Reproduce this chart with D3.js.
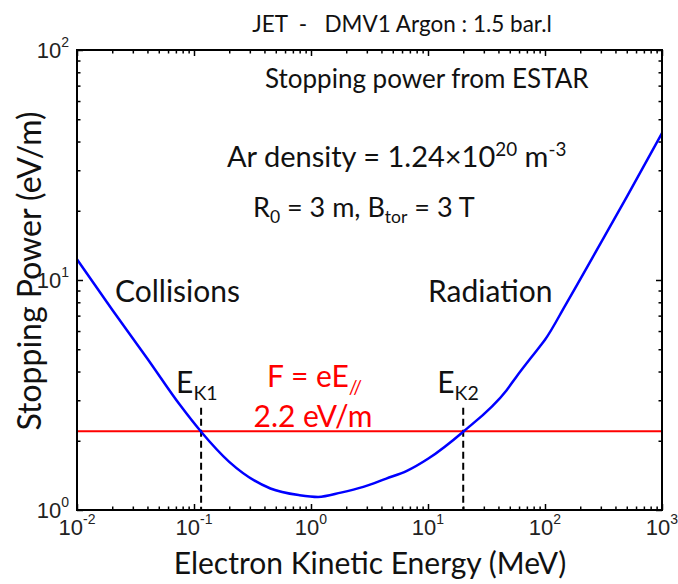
<!DOCTYPE html>
<html>
<head>
<meta charset="utf-8">
<script src="https://cdn.jsdelivr.net/npm/d3@7"></script>
<style>
  body { margin: 0; background: #fff; }
  svg text { white-space: pre; }
</style>
</head>
<body>
<div id="chart"></div>
<script>
//////////////////////////// data /////////////////////////////////////////

// electron kinetic energy (MeV) and stopping power (eV/m)
const energy = [0.01, 0.02, 0.04, 0.076, 0.115, 0.2, 0.45, 0.8, 1.15, 1.8, 2.8, 4.4, 6.6, 10, 20, 47, 57, 90, 100, 150, 300, 500, 1000];
const stopping = [12.3, 7.43, 4.55, 2.86, 2.19, 1.62, 1.24, 1.16, 1.14, 1.19, 1.26, 1.37, 1.48, 1.67, 2.19, 3.32, 3.8, 5.13, 5.5, 7.8, 14.5, 23.0, 43.5];

const forceValue = 2.2; // F = eE// (eV/m)
const ekCrossings = [0.115, 20]; // E_K1, E_K2 (MeV)
const ekDashTop = 2.78; // dashed markers go up to here

const xDecades = [-2, -1, 0, 1, 2, 3];
const yDecades = [0, 1, 2];

//////////////////////////// sizes ////////////////////////////////////////

const width = 678;
const height = 584;
const margin = { top: 50, right: 16, bottom: 74, left: 77 };
const boundedWidth = width - margin.left - margin.right;
const boundedHeight = height - margin.top - margin.bottom;

const sans = "Lato, 'Open Sans', sans-serif";
const arial = "'Liberation Sans', Arial, sans-serif";

const svg = d3.select("#chart").append("svg")
  .attr("width", width)
  .attr("height", height);

const bounds = svg.append("g")
  .attr("transform", `translate(${margin.left},${margin.top})`);

//////////////////////////// scales ///////////////////////////////////////

const x = d3.scaleLog().domain([1e-2, 1e3]).range([0, boundedWidth]);
const y = d3.scaleLog().domain([1, 100]).range([boundedHeight, 0]);

const majorX = xDecades.map((p) => Math.pow(10, p));
const majorY = yDecades.map((p) => Math.pow(10, p));
const minorOf = (majors) => {
  const out = [];
  majors.slice(0, -1).forEach((m) => {
    for (let k = 2; k <= 9; k++) out.push(m * k);
  });
  return out;
};
const minorX = minorOf(majorX);
const minorY = minorOf(majorY);

//////////////////////////// axes (inward ticks) //////////////////////////

const tickAxis = (gen, vals, size, transform) => {
  const g = bounds.append("g")
    .attr("transform", transform || null)
    .call(gen.tickValues(vals).tickSize(size).tickFormat(""));
  g.select(".domain").remove();
  g.selectAll(".tick line").attr("stroke", "#000").attr("stroke-width", 1.5);
};

tickAxis(d3.axisBottom(x), majorX, -6, `translate(0,${boundedHeight})`);
tickAxis(d3.axisBottom(x), minorX, -3.5, `translate(0,${boundedHeight})`);
tickAxis(d3.axisTop(x), majorX, -6);
tickAxis(d3.axisTop(x), minorX, -3.5);
tickAxis(d3.axisLeft(y), majorY, -6);
tickAxis(d3.axisLeft(y), minorY, -3.5);
tickAxis(d3.axisRight(y), majorY, -6, `translate(${boundedWidth},0)`);
tickAxis(d3.axisRight(y), minorY, -3.5, `translate(${boundedWidth},0)`);

// tick labels 10^n
const xLab = bounds.append("g").selectAll("text")
  .data(xDecades)
  .join("text")
  .attr("x", (d) => x(Math.pow(10, d)))
  .attr("y", boundedHeight + 25)
  .attr("text-anchor", "middle")
  .attr("font-family", arial)
  .attr("font-size", 22)
  .attr("fill", "#222");
xLab.append("tspan").text("10");
xLab.append("tspan").attr("dy", -11).attr("font-size", 14).text((d) => d);

const yLab = bounds.append("g").selectAll("text")
  .data(yDecades)
  .join("text")
  .attr("x", -8)
  .attr("y", (d) => y(Math.pow(10, d)) + 8)
  .attr("text-anchor", "end")
  .attr("font-family", arial)
  .attr("font-size", 22)
  .attr("fill", "#222");
yLab.append("tspan").text("10");
yLab.append("tspan").attr("dy", -11).attr("font-size", 14).text((d) => d);

//////////////////////////// plot /////////////////////////////////////////

const curveData = energy.map((e, i) => ({ e, s: stopping[i] }));

// red force line
bounds.append("line")
  .attr("x1", 0)
  .attr("x2", boundedWidth)
  .attr("y1", y(forceValue))
  .attr("y2", y(forceValue))
  .attr("stroke", "#ff0000")
  .attr("stroke-width", 2.2);

// dashed crossing markers
bounds.append("g").selectAll("line")
  .data(ekCrossings)
  .join("line")
  .attr("x1", (d) => x(d))
  .attr("x2", (d) => x(d))
  .attr("y1", y(ekDashTop))
  .attr("y2", boundedHeight)
  .attr("stroke", "#000")
  .attr("stroke-width", 2)
  .attr("stroke-dasharray", "7,4");

const line = d3.line()
  .x((d) => x(d.e))
  .y((d) => y(d.s))
  .curve(d3.curveMonotoneX);

bounds.append("path")
  .datum(curveData)
  .attr("d", line)
  .attr("fill", "none")
  .attr("stroke", "#0000ff")
  .attr("stroke-width", 2.5);

// frame
bounds.append("rect")
  .attr("width", boundedWidth)
  .attr("height", boundedHeight)
  .attr("fill", "none")
  .attr("stroke", "#000")
  .attr("stroke-width", 2);

//////////////////////////// texts ////////////////////////////////////////

const addText = (px, py, size, color, parts, anchor) => {
  const t = svg.append("text")
    .attr("x", px)
    .attr("y", py)
    .attr("font-family", sans)
    .attr("font-size", size)
    .attr("fill", color)
    .attr("text-anchor", anchor || "start");
  parts.forEach((p) => {
    const ts = t.append("tspan").text(p.t);
    if (p.sup) ts.attr("dy", -size * 0.38).attr("font-size", size * 0.65);
    if (p.sub) ts.attr("dy", size * 0.22).attr("font-size", size * 0.65);
    if (p.back) ts.attr("dy", p.back);
  });
  return t;
};

addText(402, 32, 22.5, "#111", [{ t: "JET  -   DMV1 Argon : 1.5 bar.l" }], "middle");
addText(370, 574, 30, "#111", [{ t: "Electron Kinetic Energy (MeV)" }], "middle");

svg.append("text")
  .attr("transform", `translate(41,271) rotate(-90)`)
  .attr("text-anchor", "middle")
  .attr("font-family", sans)
  .attr("font-size", 32)
  .attr("fill", "#111")
  .text("Stopping Power (eV/m)");

addText(265, 88, 26, "#111", [{ t: "Stopping power from ESTAR" }]);
addText(227, 167, 29, "#111", [
  { t: "Ar density = 1.24×10" },
  { t: "20", sup: true },
  { t: " m", back: 29 * 0.38 },
  { t: "-3", sup: true }
]);
addText(253, 217, 27, "#111", [
  { t: "R" },
  { t: "0", sub: true },
  { t: " = 3 m, B", back: -27 * 0.22 },
  { t: "tor", sub: true },
  { t: " = 3 T", back: -27 * 0.22 }
]);
addText(115, 302, 30, "#111", [{ t: "Collisions" }]);
addText(428, 302, 30, "#111", [{ t: "Radiation" }]);

addText(x(ekCrossings[0]) + margin.left - 25, 393, 30, "#111", [
  { t: "E" }, { t: "K1", sub: true }
]);
addText(x(ekCrossings[1]) + margin.left - 26, 393, 30, "#111", [
  { t: "E" }, { t: "K2", sub: true }
]);

addText(267, 387, 30, "#ff0000", [
  { t: "F = eE" }, { t: "//", sub: true }
]);
addText(313, 427, 30, "#ff0000", [{ t: "2.2 eV/m" }], "middle");
</script>
</body>
</html>
